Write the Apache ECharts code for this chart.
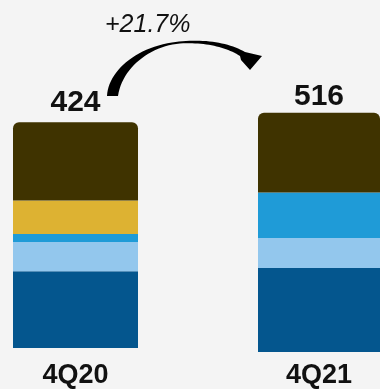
<!DOCTYPE html>
<html>
<head>
<meta charset="utf-8">
<script src="https://cdn.jsdelivr.net/npm/echarts@6/dist/echarts.min.js"></script>
<style>
html,body{margin:0;padding:0;background:#f4f4f4;}
#chart{width:380px;height:389px;}
</style>
</head>
<body>
<div id="chart"></div>
<script>
var categories = ['4Q20', '4Q21'];
var darkBlue  = [144, 181];
var lightBlue = [55, 65];
var midBlue   = [15, 98];
var yellow    = [63, 0];
var brown     = [147, 172];
var growthLabel = '+21.7%';

var segments = [
  {name: 'darkBlue', data: darkBlue, color: '#04568e'},
  {name: 'lightBlue', data: lightBlue, color: '#93c7ed'},
  {name: 'midBlue', data: midBlue, color: '#1f9bd7'},
  {name: 'yellow', data: yellow, color: '#ddb232'},
  {name: 'brown', data: brown, color: '#3f3300'}
];
var totals = categories.map(function (c, i) {
  return segments.reduce(function (s, seg) { return s + seg.data[i]; }, 0);
});

var grids = [
  {left: 13, width: 125, top: 122.3, bottom: 36.5},
  {left: 258, right: 0, top: 112.7, bottom: 36.5}
];
var labelMargins = [14, 10];
var totalDistances = [5, 1];

var xAxes = categories.map(function (c, i) {
  return {
    type: 'category', gridIndex: i, data: [c],
    axisLine: {show: false}, axisTick: {show: false},
    axisLabel: {fontSize: 27, fontWeight: 'bold', color: '#111', fontFamily: 'Liberation Sans, Arial, sans-serif', margin: labelMargins[i]}
  };
});
var yAxes = categories.map(function (c, i) {
  return {type: 'value', gridIndex: i, min: 0, max: totals[i], show: false, splitLine: {show: false}};
});

var series = [];
categories.forEach(function (c, i) {
  segments.forEach(function (seg, k) {
    var isTop = k === segments.length - 1;
    series.push({
      type: 'bar', stack: 'total' + i, xAxisIndex: i, yAxisIndex: i,
      data: [seg.data[i]], barWidth: '100%',
      itemStyle: {color: seg.color, borderRadius: isTop ? [6, 6, 0, 0] : 0},
      silent: true,
      label: isTop ? {
        show: true, position: 'top', distance: totalDistances[i],
        formatter: function () { return String(totals[i]); },
        fontSize: 30, fontWeight: 'bold', color: '#111',
        fontFamily: 'Liberation Sans, Arial, sans-serif'
      } : {show: false}
    });
  });
});

// Curved arrow outline (decoration): sample cubic beziers into a polygon
function cubic(p0, p1, p2, p3, n) {
  var pts = [];
  for (var j = 0; j <= n; j++) {
    var t = j / n, u = 1 - t;
    pts.push([
      u*u*u*p0[0] + 3*u*u*t*p1[0] + 3*u*t*t*p2[0] + t*t*t*p3[0],
      u*u*u*p0[1] + 3*u*u*t*p1[1] + 3*u*t*t*p2[1] + t*t*t*p3[1]
    ]);
  }
  return pts;
}
var arrowPts = []
  .concat(cubic([107,96],[108,72],[135,48],[172,42.5], 24))
  .concat(cubic([172,42.5],[200,38],[228,42],[245,52], 24).slice(1))
  .concat([[262,56],[250,70],[241,60],[240,56]])
  .concat(cubic([240,56],[226,47],[205,42],[180,43.5], 24).slice(1))
  .concat(cubic([180,43.5],[150,46],[122,68],[118,96], 24).slice(1));

var chart = echarts.init(document.getElementById('chart'), null, {renderer: 'canvas'});
chart.setOption({
  backgroundColor: '#f4f4f4',
  animation: false,
  grid: grids,
  xAxis: xAxes,
  yAxis: yAxes,
  series: series,
  graphic: [
    {
      type: 'text', x: 105, y: 13,
      style: {text: growthLabel, fontSize: 25, fontStyle: 'italic', fill: '#111', fontFamily: 'Liberation Sans, Arial, sans-serif'}
    },
    {
      type: 'polygon',
      shape: {points: arrowPts},
      style: {fill: '#000'}
    }
  ]
});
</script>
</body>
</html>
